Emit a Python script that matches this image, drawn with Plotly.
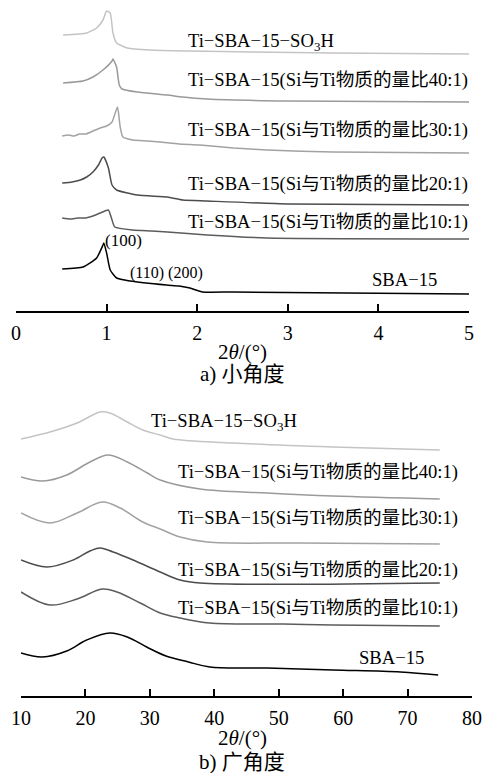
import plotly.graph_objects as go

W, H = 483, 773

# ---------------- data: small-angle (a) ----------------
sa_so3h_x = [0.52, 0.78, 0.89, 0.96, 1.00, 1.04, 1.07, 1.11, 1.23, 1.48, 1.92, 2.6, 3.5, 5.0]
sa_so3h_y = [276, 278, 283, 291, 300, 298, 278, 268, 263, 261, 260, 259, 258, 257]

sa_40_x = [0.52, 0.74, 0.85, 0.96, 1.06, 1.07, 1.11, 1.14, 1.17, 1.34, 1.67, 1.84, 2.11, 3.0, 5.0]
sa_40_y = [228, 230, 234, 241, 250, 252, 244, 226, 222, 219, 216, 214, 212, 210, 209]

sa_30_x = [0.51, 0.58, 0.64, 0.70, 0.77, 0.85, 0.93, 1.00, 1.06, 1.12, 1.15, 1.18, 1.29, 1.45, 1.59, 1.80, 2.03, 2.40, 2.77, 3.5, 5.0]
sa_30_y = [175, 176, 175, 177, 177, 180, 183, 185, 189, 204, 184, 174, 171, 170, 169, 167, 166, 163, 161, 159, 158]

sa_20_x = [0.51, 0.62, 0.71, 0.78, 0.85, 0.91, 0.95, 0.97, 1.02, 1.06, 1.11, 1.34, 1.67, 1.84, 2.11, 3.0, 5.0]
sa_20_y = [128, 129, 131, 134, 139, 146, 153, 154, 143, 126, 121, 116, 114, 111, 110, 107, 106]

sa_10_x = [0.51, 0.60, 0.68, 0.77, 0.85, 0.93, 0.98, 1.02, 1.06, 1.09, 1.29, 1.50, 1.67, 2.11, 2.77, 5.0]
sa_10_y = [93, 92, 93, 93, 95, 98, 100, 101, 91, 84, 81, 80, 79, 76, 73, 72]

sa_sba_x = [0.51, 0.74, 0.89, 0.96, 0.97, 1.00, 1.04, 1.11, 1.26, 1.66, 1.80, 1.92, 2.06, 2.4, 5.0]
sa_sba_y = [42, 44, 53, 66, 68, 58, 41, 33, 30, 26, 25, 23, 19, 19, 17]

sa_ticks = [0, 1, 2, 3, 4, 5]

# ---------------- data: wide-angle (b) ----------------
wa_so3h_x = [10, 14.5, 18.7, 22.3, 23.8, 26.5, 28.9, 31.6, 33.6, 42.9, 58.4, 75]
wa_so3h_y = [257, 264, 273, 284, 283, 274, 266, 261, 257, 253, 249, 246]

wa_40_x = [10, 13.4, 17.1, 20.7, 23.5, 26.5, 29.6, 31.6, 37.8, 48.2, 58.4, 75]
wa_40_y = [219, 215, 221, 234, 241, 234, 223, 216, 207, 203, 200, 197]

wa_30_x = [10, 14.5, 18.7, 22.6, 25.4, 28.9, 31.6, 34.7, 38.9, 53.3, 75]
wa_30_y = [183, 173, 183, 194, 188, 174, 167, 159, 154, 153, 152]

wa_20_x = [10, 14.0, 18.1, 20.7, 22.3, 24.3, 27.4, 31.6, 34.7, 37.8, 75]
wa_20_y = [136, 129, 136, 145, 148, 144, 136, 124, 116, 113, 113]

wa_10_x = [10, 14.5, 18.7, 22.6, 24.9, 28.5, 31.6, 34.7, 39.3, 50.7, 58.4, 75]
wa_10_y = [104, 91, 97, 107, 104, 93, 83, 78, 73, 72, 71, 70]

wa_sba_x = [10, 13.3, 17.1, 20.2, 23.8, 26.5, 29.5, 32.5, 36.0, 39.3, 48.2, 58.4, 68.9, 74.75]
wa_sba_y = [43, 39, 45, 56, 63, 59, 49, 40, 34, 29, 28, 26, 24, 21]

wa_ticks = [10, 20, 30, 40, 50, 60, 70, 80]

# ---------------- labels ----------------
lab_so3h = "Ti−SBA−15−SO<sub>3</sub>H"
lab_40 = "Ti−SBA−15(Si与Ti物质的量比40:1)"
lab_30 = "Ti−SBA−15(Si与Ti物质的量比30:1)"
lab_20 = "Ti−SBA−15(Si与Ti物质的量比20:1)"
lab_10 = "Ti−SBA−15(Si与Ti物质的量比10:1)"
lab_sba = "SBA−15"
peak_100 = "(100)"
peak_110_200 = "(110) (200)"
xtitle = "2<i>θ</i>/(°)"
cap_a = "a) 小角度"
cap_b = "b) 广角度"

colors = {
    "so3h": "#c4c4c4",
    "40": "#9a9a9a",
    "30": "#a2a2a2",
    "20": "#4c4c4c",
    "10": "#5c5c5c",
    "sba": "#000000",
}

FONT = "Liberation Serif, Times New Roman, Noto Sans CJK SC, serif"

fig = go.Figure()

def add(x, y, color, xa, ya, shape, smooth):
    fig.add_trace(go.Scatter(
        x=x, y=y, mode="lines", xaxis=xa, yaxis=ya,
        line=dict(color=color, width=1.5, shape=shape, smoothing=smooth),
        showlegend=False, hoverinfo="skip"))

add(sa_so3h_x, sa_so3h_y, colors["so3h"], "x", "y", "spline", 0.5)
add(sa_40_x, sa_40_y, colors["40"], "x", "y", "spline", 0.5)
add(sa_30_x, sa_30_y, colors["30"], "x", "y", "spline", 0.5)
add(sa_20_x, sa_20_y, colors["20"], "x", "y", "spline", 0.5)
add(sa_10_x, sa_10_y, colors["10"], "x", "y", "spline", 0.5)
add(sa_sba_x, sa_sba_y, colors["sba"], "x", "y", "spline", 0.5)

add(wa_so3h_x, wa_so3h_y, colors["so3h"], "x2", "y2", "spline", 1.0)
add(wa_40_x, wa_40_y, colors["40"], "x2", "y2", "spline", 1.0)
add(wa_30_x, wa_30_y, colors["30"], "x2", "y2", "spline", 1.0)
add(wa_20_x, wa_20_y, colors["20"], "x2", "y2", "spline", 1.0)
add(wa_10_x, wa_10_y, colors["10"], "x2", "y2", "spline", 1.0)
add(wa_sba_x, wa_sba_y, colors["sba"], "x2", "y2", "spline", 1.0)

def py(p):
    return 1 - p / H

def px(p):
    return p / W

axis_common = dict(
    showline=True, linecolor="black", linewidth=1.5, mirror=False,
    ticks="inside", ticklen=7, tickwidth=1.5, tickcolor="black",
    showgrid=False, zeroline=False, automargin=False,
    tickfont=dict(family=FONT, size=20, color="black"),
    ticklabelstandoff=3,
)

fig.update_layout(
    template="none",
    width=W, height=H, autosize=False,
    margin=dict(l=0, r=0, t=0, b=0, pad=0, autoexpand=False),
    paper_bgcolor="white", plot_bgcolor="white",
    xaxis=dict(domain=[px(16), px(469)], range=[0, 5], anchor="y",
               tickvals=sa_ticks, ticktext=[str(t) for t in sa_ticks], **axis_common),
    yaxis=dict(domain=[py(311), 1.0], range=[0, 311], anchor="x",
               visible=False, fixedrange=True, automargin=False),
    xaxis2=dict(domain=[px(21), px(472)], range=[10, 80], anchor="y2",
                tickvals=wa_ticks, ticktext=[str(t) for t in wa_ticks], **axis_common),
    yaxis2=dict(domain=[py(696), py(396)], range=[0, 300], anchor="x2",
                visible=False, fixedrange=True, automargin=False),
)

def note(text, xp, yp, size=18.6, xanchor="left"):
    fig.add_annotation(text=text, x=px(xp), y=py(yp), xref="paper", yref="paper",
                       xanchor=xanchor, yanchor="middle", showarrow=False,
                       font=dict(family=FONT, size=size, color="black"))

# small-angle labels
note(lab_so3h, 186, 42)
note(lab_40, 186, 80)
note(lab_30, 186, 130)
note(lab_20, 186, 184)
note(lab_10, 186, 222)
note(peak_100, 103, 241, size=17)
note(peak_110_200, 128, 273, size=16)
note(lab_sba, 370, 280)
note(xtitle, 242, 352, size=21, xanchor="center")
note(cap_a, 242, 374, size=21, xanchor="center")

# wide-angle labels
note(lab_so3h, 149, 422)
note(lab_40, 176, 472)
note(lab_30, 176, 518)
note(lab_20, 176, 570)
note(lab_10, 176, 608)
note(lab_sba, 357, 657)
note(xtitle, 242, 738, size=21, xanchor="center")
note(cap_b, 242, 762, size=21, xanchor="center")

fig.write_html("out.html", config={"responsive": False, "displayModeBar": False},
               post_script="document.body.style.margin='0px';document.body.style.overflow='hidden';")
